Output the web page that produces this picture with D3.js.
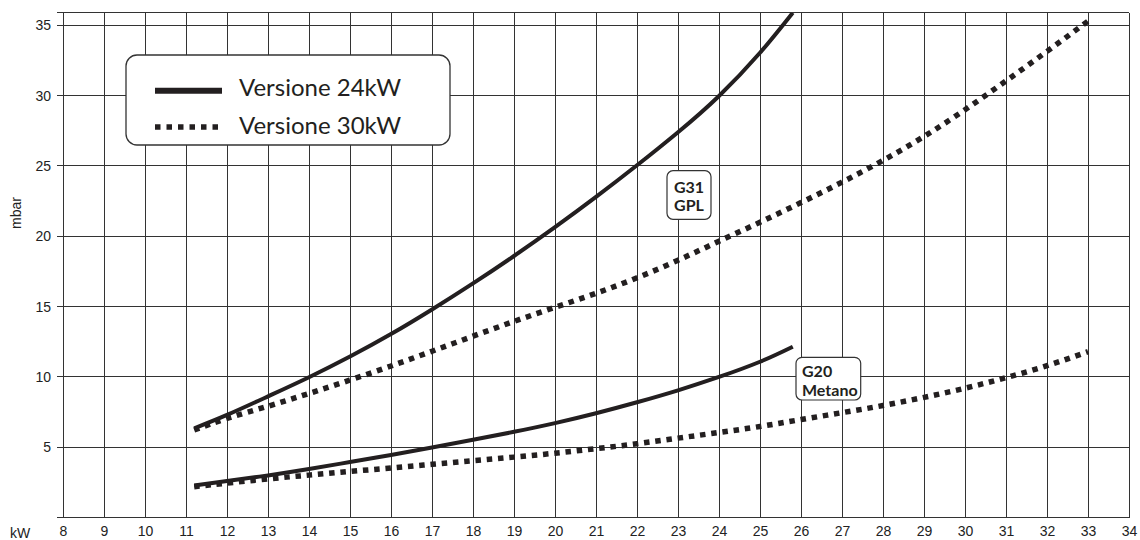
<!DOCTYPE html>
<html><head><meta charset="utf-8">
<script src="https://cdn.jsdelivr.net/npm/d3@7"></script>
<style>
html,body{margin:0;padding:0;background:#fff;}
svg{display:block;}
</style></head>
<body>
<svg id="chart" width="1140" height="540"></svg>
<script>
// ---- data ----
const xTicks = d3.range(8, 35, 1);
const yTicks = [5, 10, 15, 20, 25, 30, 35];
const g31_24kW_x = [11.2, 12, 13, 14, 15, 16, 17, 18, 19, 20, 21, 22, 23, 24, 25, 25.8];
const g31_24kW_y = [6.35, 7.3, 8.62, 9.98, 11.45, 13.05, 14.8, 16.65, 18.6, 20.65, 22.8, 25.05, 27.4, 29.98, 33.05, 35.9];
const g31_30kW_x = [11.2, 12, 13, 14, 15, 16, 17, 18, 19, 20, 21, 22, 23, 24, 25, 26, 27, 28, 29, 30, 31, 32, 33];
const g31_30kW_y = [6.23, 7.05, 7.92, 8.83, 9.78, 10.78, 11.83, 12.9, 13.95, 14.95, 15.95, 17.05, 18.3, 19.65, 21.0, 22.4, 23.85, 25.4, 27.1, 29.0, 31.05, 33.15, 35.3];
const g20_24kW_x = [11.2, 12, 13, 14, 15, 16, 17, 18, 19, 20, 21, 22, 23, 24, 25, 25.8];
const g20_24kW_y = [2.28, 2.6, 3.0, 3.45, 3.95, 4.45, 4.98, 5.53, 6.1, 6.72, 7.42, 8.2, 9.05, 10.0, 11.08, 12.15];
const g20_30kW_x = [11.2, 12, 13, 14, 15, 16, 17, 18, 19, 20, 21, 22, 23, 24, 25, 26, 27, 28, 29, 30, 31, 32, 33];
const g20_30kW_y = [2.2, 2.45, 2.75, 3.02, 3.28, 3.53, 3.79, 4.05, 4.3, 4.58, 4.9, 5.25, 5.65, 6.05, 6.48, 6.97, 7.46, 7.97, 8.55, 9.2, 9.95, 10.8, 11.8];
const legendLabels = ["Versione 24kW", "Versione 30kW"];
const gasLabels = [["G31", "GPL"], ["G20", "Metano"]];
const xUnit = "kW", yUnit = "mbar";

// ---- layout ----
const svg = d3.select("#chart");
const L = 63, R = 1129, T = 12.7, B = 517.6;
const x = d3.scaleLinear().domain([8, 34]).range([L, R]);
const y = d3.scaleLinear().domain([0, 35.9]).range([B, T]);
const gridColor = "#333";
const ink = "#231f20";

svg.append("defs").append("clipPath").attr("id", "plotclip")
  .append("rect").attr("x", L).attr("y", T).attr("width", R - L).attr("height", B - T);

// grid
const grid = svg.append("g");
grid.selectAll("line.v").data(xTicks).join("line")
  .attr("x1", d => x(d)).attr("x2", d => x(d))
  .attr("y1", T).attr("y2", B)
  .attr("stroke", gridColor).attr("stroke-width", 1).attr("shape-rendering", "crispEdges");
grid.selectAll("line.h").data(yTicks.concat([0, 35.9])).join("line")
  .attr("x1", L - 6).attr("x2", R)
  .attr("y1", d => y(d)).attr("y2", d => y(d))
  .attr("stroke", gridColor).attr("stroke-width", d => (d === 0 ? 1.6 : 1)).attr("shape-rendering", "crispEdges");

// axes labels via d3 axes (no domain / tick lines)
const xAxis = d3.axisBottom(x).tickValues(xTicks).tickSize(0).tickPadding(8).tickFormat(d3.format("d"));
const gx = svg.append("g").attr("transform", `translate(0,${B})`).call(xAxis);
gx.select(".domain").remove();
gx.selectAll("text").attr("font-family", "Liberation Sans, Arial, sans-serif").attr("font-size", 14).attr("fill", "#222");

const yAxis = d3.axisLeft(y).tickValues(yTicks).tickSize(0).tickPadding(12).tickFormat(d3.format("d"));
const gy = svg.append("g").attr("transform", `translate(${L},0)`).call(yAxis);
gy.select(".domain").remove();
gy.selectAll("text").attr("font-family", "Liberation Sans, Arial, sans-serif").attr("font-size", 14).attr("fill", "#222");

svg.append("text").attr("x", 20).attr("y", B + 20.5).attr("text-anchor", "middle")
  .attr("font-family", "Liberation Sans, Arial, sans-serif").attr("font-size", 14).attr("fill", "#222").text(xUnit);
svg.append("text").attr("transform", "translate(21,213) rotate(-90)").attr("text-anchor", "middle")
  .attr("font-family", "Liberation Sans, Arial, sans-serif").attr("font-size", 14).attr("fill", "#222").text(yUnit);

// curves
const line = d3.line().x(d => x(d[0])).y(d => y(d[1])).curve(d3.curveNatural);
const series = [
  { xs: g31_24kW_x, ys: g31_24kW_y, dash: false },
  { xs: g31_30kW_x, ys: g31_30kW_y, dash: true },
  { xs: g20_24kW_x, ys: g20_24kW_y, dash: false },
  { xs: g20_30kW_x, ys: g20_30kW_y, dash: true }
];
const curves = svg.append("g").attr("clip-path", "url(#plotclip)");
series.forEach(s => {
  const pts = s.xs.map((v, i) => [v, s.ys[i]]);
  curves.append("path").attr("d", line(pts))
    .attr("fill", "none").attr("stroke", ink)
    .attr("stroke-width", s.dash ? 5.5 : 4)
    .attr("stroke-dasharray", s.dash ? "5.5 5.8" : null)
    .attr("stroke-linecap", "butt");
});

// legend
const lg = svg.append("g");
lg.append("rect").attr("x", 126).attr("y", 55).attr("width", 324).attr("height", 90).attr("rx", 11)
  .attr("fill", "#fff").attr("stroke", "#333").attr("stroke-width", 1.3);
lg.append("line").attr("x1", 155).attr("x2", 222).attr("y1", 90.7).attr("y2", 90.7)
  .attr("stroke", ink).attr("stroke-width", 6);
lg.append("line").attr("x1", 155).attr("x2", 222).attr("y1", 127).attr("y2", 127)
  .attr("stroke", ink).attr("stroke-width", 5.5).attr("stroke-dasharray", "5.5 6");
lg.selectAll("text").data(legendLabels).join("text")
  .attr("x", 239).attr("y", (d, i) => i === 0 ? 96 : 133.5)
  .attr("font-family", "Lato, sans-serif").attr("font-size", 24).attr("fill", ink).text(d => d);

// gas labels
const g1 = svg.append("g");
g1.append("rect").attr("x", 667).attr("y", 170.7).attr("width", 44).attr("height", 48.6).attr("rx", 6)
  .attr("fill", "#fff").attr("stroke", "#333").attr("stroke-width", 1.2);
g1.selectAll("text").data(gasLabels[0]).join("text")
  .attr("x", 689).attr("y", (d, i) => i === 0 ? 192.7 : 210.5).attr("text-anchor", "middle")
  .attr("font-family", "Lato, sans-serif").attr("font-weight", "bold").attr("font-size", 16).attr("fill", ink).text(d => d);

const g2 = svg.append("g");
g2.append("rect").attr("x", 796).attr("y", 357.3).attr("width", 64.7).attr("height", 42.7).attr("rx", 6)
  .attr("fill", "#fff").attr("stroke", "#333").attr("stroke-width", 1.2);
g2.selectAll("text").data(gasLabels[1]).join("text")
  .attr("x", 802).attr("y", (d, i) => i === 0 ? 376.7 : 395.7)
  .attr("font-family", "Lato, sans-serif").attr("font-weight", "bold").attr("font-size", 16).attr("fill", ink).text(d => d);
</script>
</body></html>
